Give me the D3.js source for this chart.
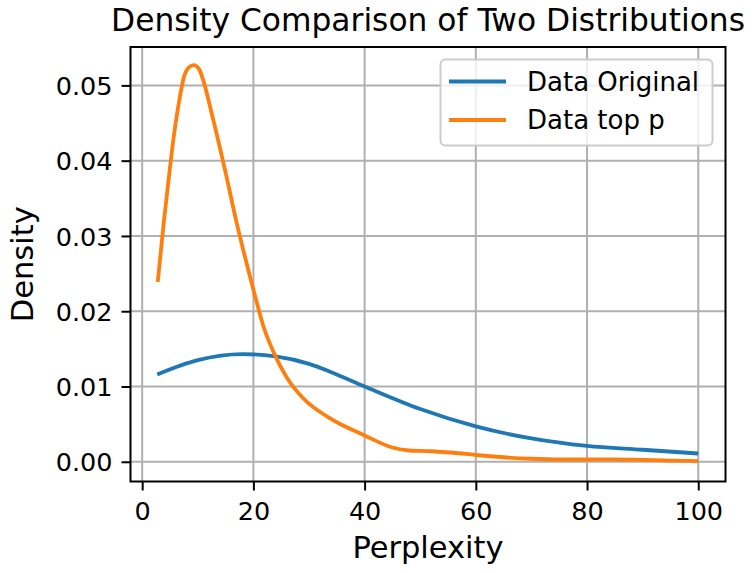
<!DOCTYPE html>
<html><head><meta charset="utf-8">
<script src="https://cdn.jsdelivr.net/npm/d3@7"></script>
<style>body{margin:0;background:#fff}svg{display:block}text{font-family:"DejaVu Sans",sans-serif;fill:#000}</style>
</head><body><svg id="c" width="754" height="573"></svg>
<script>
const title = "Density Comparison of Two Distributions";
const xLabel = "Perplexity";
const yLabel = "Density";
const seriesNames = ["Data Original", "Data top p"];
const seriesColors = ["#1f77b4", "#ff7f0e"];
const xTicks = [0, 20, 40, 60, 80, 100];
const yTicks = [0, 0.01, 0.02, 0.03, 0.04, 0.05];

const origX = [2.7, 10, 18, 24, 30, 34, 40, 50, 60, 70, 80, 90, 100];
const origY = [0.0116, 0.0135, 0.0143, 0.0140, 0.0130, 0.0119, 0.0100, 0.0070, 0.0047, 0.0031, 0.0021, 0.0016, 0.0011];
const topX = [2.8, 3.9, 4.8, 5.4, 6.0, 6.6, 7.5, 8.4, 9.3, 10.2, 11.1, 12.3, 14.7, 17.1, 20.1, 21.8, 23.6, 26, 29, 33.5, 40, 45, 48, 52, 56, 60, 65, 70, 75, 80, 85, 90, 95, 100];
const topY = [0.0239, 0.0319, 0.0378, 0.0416, 0.0449, 0.0477, 0.0511, 0.0524, 0.0527, 0.0522, 0.0504, 0.0469, 0.0394, 0.0314, 0.0226, 0.0180, 0.0146, 0.0112, 0.0084, 0.0059, 0.0035, 0.0019, 0.0015, 0.0014, 0.0012, 0.0009, 0.0006, 0.0004, 0.0003, 0.0003, 0.00033, 0.00025, 0.00015, 0.0001];

const svg = d3.select("#c");
const L = 130.5, R = 725.5, T = 47, B = 481.5;
const x = d3.scaleLinear().domain([-2.1, 104.9]).range([L, R]);
const y = d3.scaleLinear().domain([-0.00262, 0.0551]).range([B, T]);

// grid
const g = svg.append("g");
g.selectAll(".gx").data(xTicks).join("line")
  .attr("x1", d => x(d)).attr("x2", d => x(d)).attr("y1", T).attr("y2", B)
  .attr("stroke", "#b0b0b0").attr("stroke-width", 2);
g.selectAll(".gy").data(yTicks).join("line")
  .attr("y1", d => y(d)).attr("y2", d => y(d)).attr("x1", L).attr("x2", R)
  .attr("stroke", "#b0b0b0").attr("stroke-width", 2);

// axes
const xa = svg.append("g").attr("transform", `translate(0,${B})`)
  .call(d3.axisBottom(x).tickValues(xTicks).tickSize(9).tickPadding(9).tickFormat(d3.format("d")));
const ya = svg.append("g").attr("transform", `translate(${L},0)`)
  .call(d3.axisLeft(y).tickValues(yTicks).tickSize(9).tickPadding(9).tickFormat(d3.format(".2f")));
[xa, ya].forEach(a => {
  a.select(".domain").remove();
  a.selectAll(".tick line").attr("stroke", "#000").attr("stroke-width", 2);
  a.selectAll("text").attr("font-size", 25.5).attr("font-family", "DejaVu Sans").attr("fill", "#000");
});
xa.selectAll("text").attr("dy", 0).attr("y", 38);
ya.selectAll("text").attr("dy", "0.36em");

// lines
const line = d3.line().x(d => x(d[0])).y(d => y(d[1])).curve(d3.curveMonotoneX);
const data = [d3.zip(origX, origY), d3.zip(topX, topY)];
svg.selectAll(".ln").data(data).join("path")
  .attr("d", line).attr("fill", "none")
  .attr("stroke", (d, i) => seriesColors[i]).attr("stroke-width", 3.8)
  .attr("stroke-linejoin", "round").attr("stroke-linecap", "butt");

// frame
svg.append("rect").attr("x", L).attr("y", T).attr("width", R - L).attr("height", B - T)
  .attr("fill", "none").attr("stroke", "#000").attr("stroke-width", 2);

// legend
const lg = svg.append("g");
lg.append("rect").attr("x", 440.5).attr("y", 59.5).attr("width", 272).attr("height", 86).attr("rx", 5)
  .attr("fill", "rgba(255,255,255,0.8)").attr("stroke", "#cccccc").attr("stroke-width", 2);
seriesNames.forEach((n, i) => {
  const yy = 81.5 + i * 38.5;
  lg.append("line").attr("x1", 449).attr("x2", 506).attr("y1", yy).attr("y2", yy)
    .attr("stroke", seriesColors[i]).attr("stroke-width", 3.8);
  lg.append("text").attr("x", 527).attr("y", yy).attr("dy", "0.36em").attr("font-size", 26).text(n);
});

// titles
svg.append("text").attr("x", (L + R) / 2).attr("y", 31).attr("text-anchor", "middle").attr("font-size", 31.3).text(title);
svg.append("text").attr("x", (L + R) / 2).attr("y", 558).attr("text-anchor", "middle").attr("font-size", 30.5).text(xLabel);
svg.append("text").attr("transform", `translate(33,${(T + B) / 2}) rotate(-90)`).attr("text-anchor", "middle").attr("font-size", 30.5).text(yLabel);
</script></body></html>
